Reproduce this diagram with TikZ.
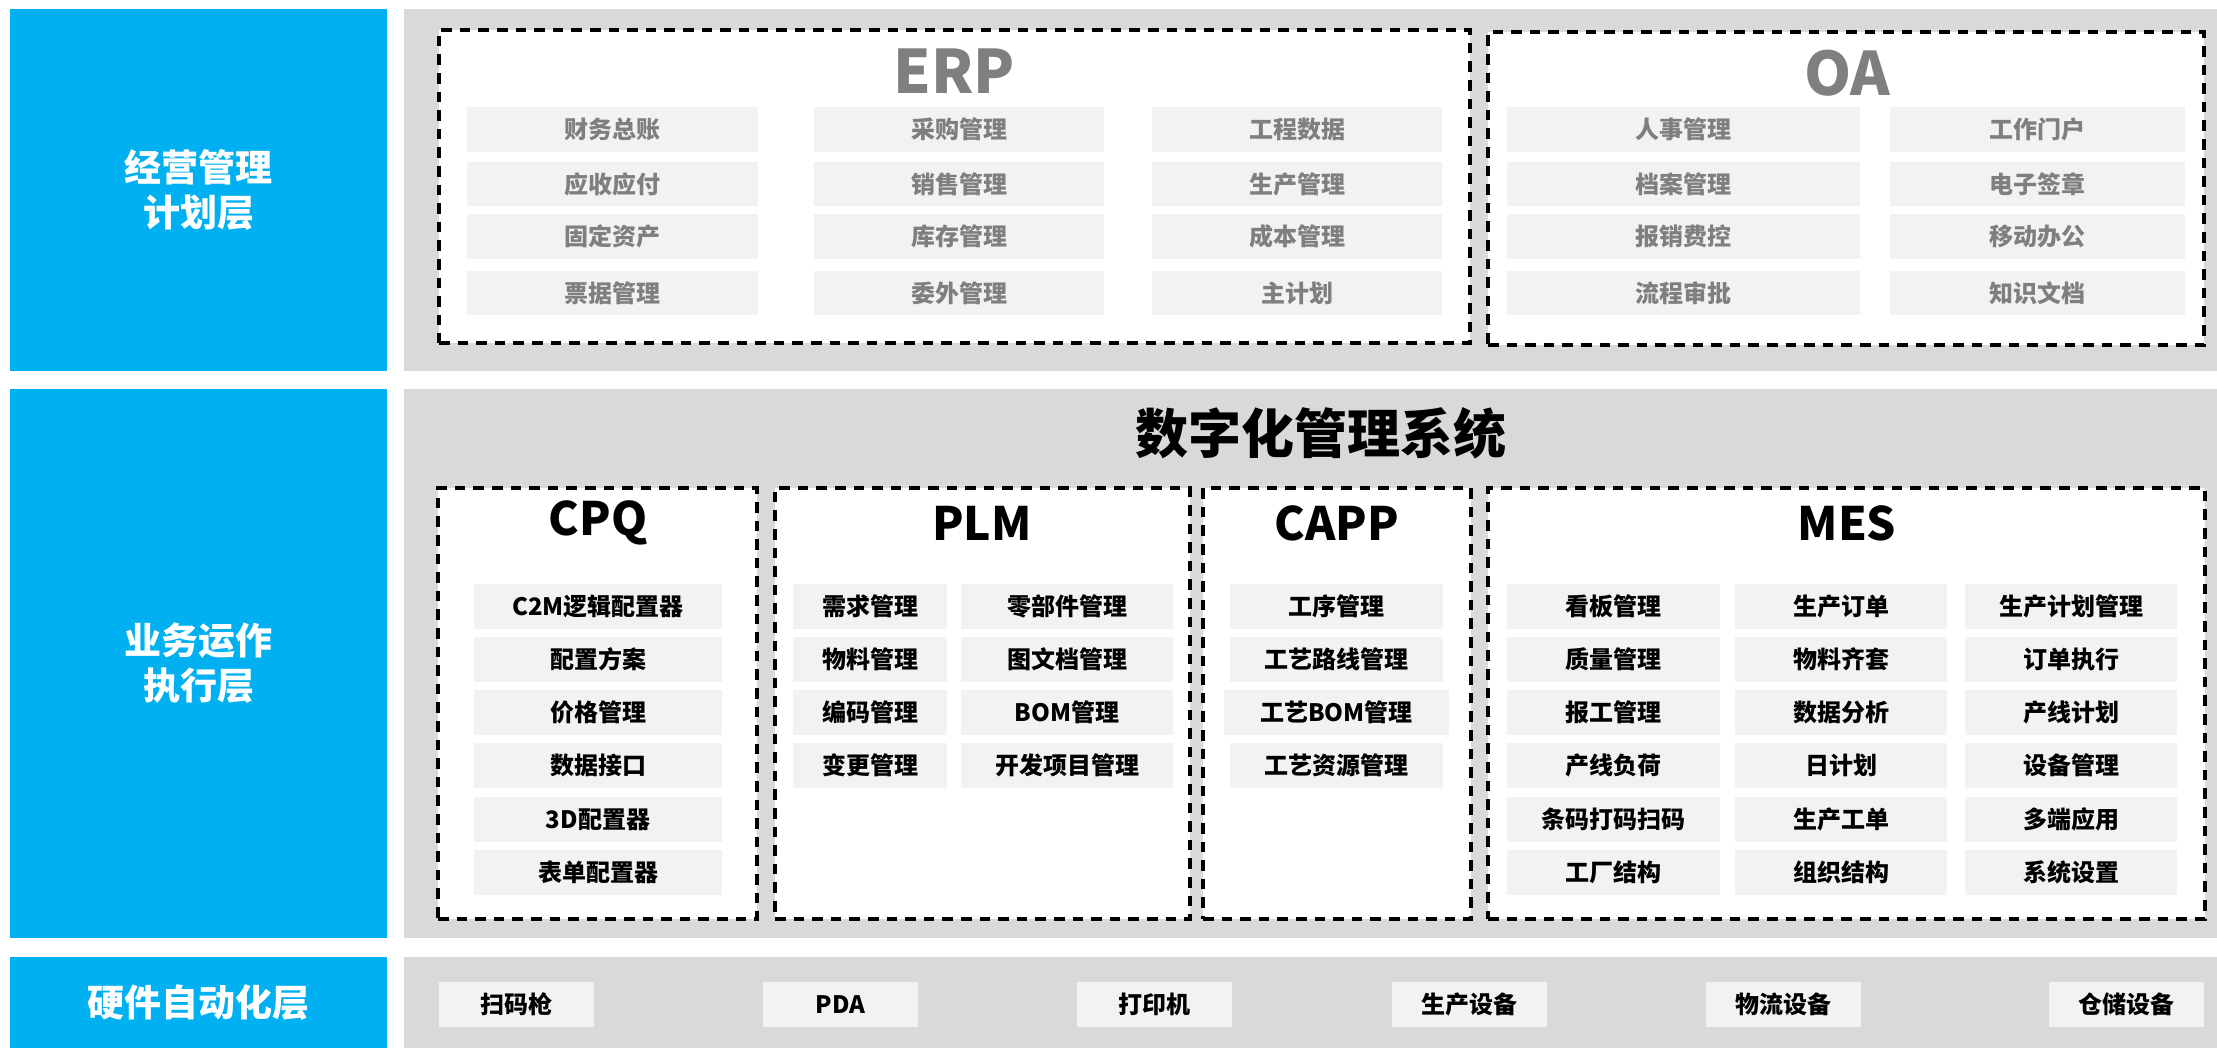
\documentclass[tikz,border=0pt]{standalone}
\usepackage{fontspec}
\setmainfont{Noto Sans CJK SC}
\definecolor{layerblue}{HTML}{00B0F0}
\definecolor{bandgray}{HTML}{D9D9D9}
\definecolor{cellgray}{HTML}{F2F2F2}
\definecolor{textgray}{HTML}{7F7F7F}
\newcommand\mybox[7]{\node[#1, minimum width={(#4-#3)*0.5pt}, minimum height={(#6-#5)*0.5pt}] (#2) at ({(#3+#4)/2},{(#5+#6)/2}) {#7};}
\begin{document}
\begin{tikzpicture}[x=0.5pt,y=-0.5pt,
  layer/.style={fill=layerblue, inner sep=0, text=white, align=center, font=\fontsize{18.5}{22.5}\selectfont\bfseries},
  band/.style={fill=bandgray, inner sep=0},
  group/.style={draw=black, fill=white, line width=1.6pt, dash pattern=on 5.3pt off 4pt, inner sep=0},
  cell/.style={fill=cellgray, inner sep=0, font=\fontsize{12}{14}\selectfont\bfseries},
  erpcell/.style={cell, text=textgray},
  grouptitle/.style={inner sep=0, font=\fontsize{23}{26}\selectfont\bfseries},
  erptitle/.style={inner sep=0, text=textgray, font=\fontsize{30}{34}\selectfont\bfseries},
  maintitle/.style={inner sep=0, font=\fontsize{26.5}{30}\selectfont\bfseries}]
\useasboundingbox (0,0) rectangle (2217,1048);
% layers
\mybox{layer}{L1}{10}{387}{9}{371}{经营管理\\计划层}
\mybox{layer}{L2}{10}{387}{389}{938}{业务运作\\执行层}
\mybox{layer}{L3}{10}{387}{957}{1048}{硬件自动化层}
\mybox{band}{B1}{404}{2217}{9}{371}{}
\mybox{band}{B2}{404}{2217}{389}{938}{}
\mybox{band}{B3}{404}{2217}{957}{1048}{}
% row 1
\mybox{group}{ERP}{439}{1470}{30}{343}{}
\mybox{group}{OA}{1488}{2204}{32}{345}{}
\node[erptitle] (ERPt) at (954,71) {ERP};
\node[erptitle] (OAt) at (1847,73) {OA};
\foreach \t/\ya/\yb [count=\i] in {财务总账/107/152,应收应付/162/206,固定资产/214/259,票据管理/271/315}
  {\mybox{erpcell}{erpa\i}{467}{758}{\ya}{\yb}{\t}}
\foreach \t/\ya/\yb [count=\i] in {采购管理/107/152,销售管理/162/206,库存管理/214/259,委外管理/271/315}
  {\mybox{erpcell}{erpb\i}{814}{1104}{\ya}{\yb}{\t}}
\foreach \t/\ya/\yb [count=\i] in {工程数据/107/152,生产管理/162/206,成本管理/214/259,主计划/271/315}
  {\mybox{erpcell}{erpc\i}{1152}{1442}{\ya}{\yb}{\t}}
\foreach \t/\ya/\yb [count=\i] in {人事管理/107/152,档案管理/162/206,报销费控/214/259,流程审批/271/315}
  {\mybox{erpcell}{oaa\i}{1507}{1860}{\ya}{\yb}{\t}}
\foreach \t/\ya/\yb [count=\i] in {工作门户/107/152,电子签章/162/206,移动办公/214/259,知识文档/271/315}
  {\mybox{erpcell}{oab\i}{1890}{2185}{\ya}{\yb}{\t}}
% row 2
\node[maintitle] (MT) at (1321,433) {数字化管理系统};
\mybox{group}{CPQ}{438}{757}{488}{919}{}
\mybox{group}{PLM}{775}{1190}{488}{919}{}
\mybox{group}{CAPP}{1203}{1471}{488}{919}{}
\mybox{group}{MES}{1488}{2205}{488}{919}{}
\node[grouptitle] (CPQt) at (598,523) {CPQ};
\node[grouptitle] (PLMt) at (982,523) {PLM};
\node[grouptitle] (CAPPt) at (1337,523) {CAPP};
\node[grouptitle] (MESt) at (1847,523) {MES};
\foreach \t/\ya [count=\i] in {C2M逻辑配置器/584,配置方案/637,价格管理/690,数据接口/743,3D配置器/797,表单配置器/850}
  {\mybox{cell}{cpq\i}{474}{722}{\ya}{\ya+45}{\t}}
\foreach \t/\ya [count=\i] in {需求管理/584,物料管理/637,编码管理/690,变更管理/743}
  {\mybox{cell}{plma\i}{793}{947}{\ya}{\ya+45}{\t}}
\foreach \t/\ya [count=\i] in {零部件管理/584,图文档管理/637,BOM管理/690,开发项目管理/743}
  {\mybox{cell}{plmb\i}{961}{1173}{\ya}{\ya+45}{\t}}
\foreach \t/\ya/\xa/\xb [count=\i] in {工序管理/584/1230/1443,工艺路线管理/637/1230/1443,工艺BOM管理/690/1224/1449,工艺资源管理/743/1230/1443}
  {\mybox{cell}{capp\i}{\xa}{\xb}{\ya}{\ya+45}{\t}}
\foreach \t/\ya [count=\i] in {看板管理/584,质量管理/637,报工管理/690,产线负荷/743,条码打码扫码/797,工厂结构/850}
  {\mybox{cell}{mesa\i}{1507}{1720}{\ya}{\ya+45}{\t}}
\foreach \t/\ya [count=\i] in {生产订单/584,物料齐套/637,数据分析/690,日计划/743,生产工单/797,组织结构/850}
  {\mybox{cell}{mesb\i}{1735}{1947}{\ya}{\ya+45}{\t}}
\foreach \t/\ya [count=\i] in {生产计划管理/584,订单执行/637,产线计划/690,设备管理/743,多端应用/797,系统设置/850}
  {\mybox{cell}{mesc\i}{1965}{2177}{\ya}{\ya+45}{\t}}
% row 3
\foreach \t/\xa [count=\i] in {扫码枪/439,PDA/763,打印机/1077,生产设备/1392,物流设备/1706,仓储设备/2049}
  {\mybox{cell}{hw\i}{\xa}{\xa+155}{982}{1027}{\t}}
\end{tikzpicture}
\end{document}
